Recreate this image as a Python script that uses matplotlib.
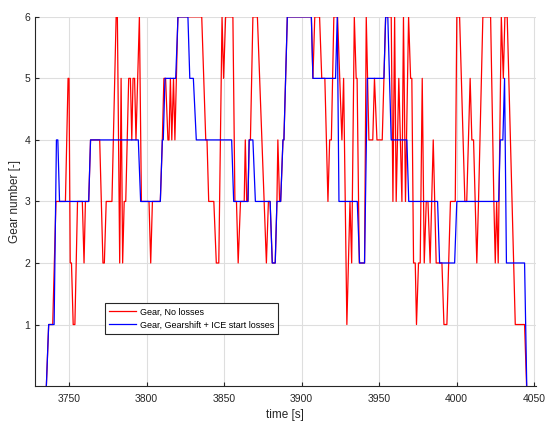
import matplotlib
matplotlib.use("Agg")
import matplotlib.pyplot as plt

plt.rcParams.update({
    "font.family": ["Liberation Sans", "DejaVu Sans"],
    "font.size": 7.5,
})

# gear trace without losses (vertex times [s] and gear numbers)
t_noloss = [3735.4, 3736.9, 3739.5, 3741.6, 3747.7, 3749.4, 3750.0, 3750.8, 3751.6, 3752.7,
            3753.8, 3755.5, 3758.6, 3759.7, 3760.6, 3762.7, 3763.9, 3769.8, 3771.9, 3772.8,
            3774.0, 3777.7, 3780.4, 3781.2, 3782.7, 3783.6, 3784.6, 3785.6, 3786.6, 3788.5,
            3789.6, 3790.5, 3791.3, 3792.3, 3793.2, 3795.4, 3796.7, 3801.6, 3802.7, 3803.8,
            3808.9, 3810.2, 3811.2, 3812.3, 3813.8, 3814.5, 3815.4, 3816.3, 3817.4, 3818.3,
            3820.2, 3835.6, 3838.2, 3839.0, 3840.1, 3843.4, 3845.0, 3846.6, 3848.7, 3849.7,
            3851.0, 3855.7, 3857.0, 3858.0, 3859.1, 3860.6, 3863.0, 3863.7, 3864.6, 3865.4,
            3866.2, 3867.0, 3868.6, 3871.5, 3877.3, 3878.6, 3879.7, 3881.1, 3883.0, 3884.1,
            3884.7, 3885.8, 3886.5, 3888.0, 3888.6, 3890.8, 3906.3, 3907.3, 3908.5, 3911.6,
            3913.0, 3915.0, 3917.0, 3918.1, 3919.2, 3920.8, 3923.2, 3926.0, 3927.1, 3929.2,
            3931.2, 3932.3, 3934.0, 3935.2, 3935.8, 3937.2, 3940.6, 3941.7, 3943.4, 3945.9,
            3947.0, 3948.6, 3952.0, 3954.2, 3957.8, 3958.9, 3960.0, 3961.0, 3962.7, 3964.7,
            3965.7, 3967.0, 3969.0, 3970.3, 3971.1, 3972.2, 3973.3, 3974.1, 3975.4, 3976.5,
            3977.8, 3979.1, 3980.4, 3981.5, 3982.9, 3984.9, 3986.8, 3990.5, 3991.8, 3993.7,
            3996.0, 3999.1, 4000.1, 4001.9, 4005.3, 4006.5, 4008.7, 4009.8, 4010.9, 4013.0,
            4014.1, 4016.9, 4021.9, 4024.0, 4024.9, 4025.8, 4026.8, 4028.8, 4030.1, 4031.1,
            4032.6, 4037.8, 4043.8, 4045.1]
gear_noloss = [0, 1, 1, 3, 3, 5, 5, 2, 2, 1,
               1, 3, 3, 2, 3, 3, 4, 4, 2, 2,
               3, 3, 6, 6, 2, 5, 2, 3, 3, 5,
               5, 4, 5, 5, 4, 6, 3, 3, 2, 3,
               3, 4, 5, 5, 4, 4, 5, 4, 5, 4,
               6, 6, 4, 4, 3, 3, 2, 2, 6, 5,
               6, 6, 3, 3, 2, 3, 3, 4, 3, 3,
               4, 4, 6, 6, 2, 3, 3, 2, 2, 3,
               4, 3, 3, 4, 4, 6, 6, 5, 6, 6,
               5, 5, 3, 4, 4, 6, 6, 4, 5, 1,
               3, 2, 6, 5, 5, 2, 2, 6, 4, 4,
               5, 4, 4, 6, 6, 3, 6, 3, 5, 3,
               6, 3, 6, 5, 5, 2, 2, 1, 2, 2,
               5, 2, 3, 3, 2, 4, 2, 2, 1, 1,
               3, 3, 6, 6, 3, 3, 5, 4, 4, 2,
               3, 6, 6, 3, 2, 3, 2, 6, 5, 6,
               6, 1, 1, 0]

# gear trace with gearshift + ICE start losses
t_loss = [3735.4, 3736.9, 3740.4, 3741.9, 3742.8, 3743.9, 3762.7, 3763.9, 3794.7, 3796.2,
          3808.9, 3810.2, 3810.8, 3811.9, 3818.8, 3820.3, 3826.7, 3827.9, 3830.2, 3832.1,
          3854.9, 3856.2, 3865.4, 3866.2, 3868.6, 3870.2, 3879.7, 3881.1, 3883.0, 3884.1,
          3886.5, 3888.0, 3888.6, 3890.8, 3906.3, 3907.3, 3921.9, 3923.0, 3924.1, 3935.9,
          3937.4, 3940.6, 3942.4, 3953.1, 3954.2, 3955.6, 3957.8, 3967.9, 3969.1, 3987.7,
          3989.0, 3998.7, 4000.1, 4027.1, 4028.1, 4029.8, 4030.9, 4032.1, 4043.8, 4045.2]
gear_loss = [0, 1, 1, 4, 4, 3, 3, 4, 4, 3,
             3, 4, 4, 5, 5, 6, 6, 5, 5, 4,
             4, 3, 3, 4, 4, 3, 3, 2, 2, 3,
             3, 4, 4, 6, 6, 5, 5, 6, 3, 3,
             2, 2, 5, 5, 6, 6, 4, 4, 3, 3,
             2, 2, 3, 3, 4, 4, 5, 2, 2, 0]

fig = plt.figure(figsize=(5.45, 4.21), dpi=100)
ax = fig.add_axes([0.064, 0.083, 0.919, 0.877])

ax.plot(t_noloss, gear_noloss, color="#FF0000", lw=0.9, label="Gear, No losses")
ax.plot(t_loss, gear_loss, color="#0000FF", lw=0.9, label="Gear, Gearshift + ICE start losses")

ax.set_xlim(3728, 4051)
ax.set_ylim(0, 6)
ax.set_xticks([3750, 3800, 3850, 3900, 3950, 4000, 4050])
ax.set_yticks([1, 2, 3, 4, 5, 6])
ax.grid(True, color="#DEDEDE", lw=0.8)
ax.set_axisbelow(True)
ax.tick_params(direction="in", length=3, width=0.8, colors="#262626", labelsize=7.5)
ax.tick_params(axis="x", pad=6)
for s in ["top", "right"]:
    ax.spines[s].set_visible(False)
for s in ["left", "bottom"]:
    ax.spines[s].set_color("#262626")
    ax.spines[s].set_linewidth(0.8)

ax.set_xlabel("time [s]", fontsize=8.5, color="#262626", labelpad=3)
ax.set_ylabel("Gear number [-]", fontsize=8.5, color="#262626", labelpad=2)

leg = ax.legend(loc="lower left", bbox_to_anchor=(0.13, 0.13), fontsize=6.5,
                fancybox=False, framealpha=1, edgecolor="#262626",
                handlelength=3.0, handletextpad=0.5, borderpad=0.45, labelspacing=0.45)
leg.get_frame().set_linewidth(0.8)

fig.savefig("out.png", dpi=100)
